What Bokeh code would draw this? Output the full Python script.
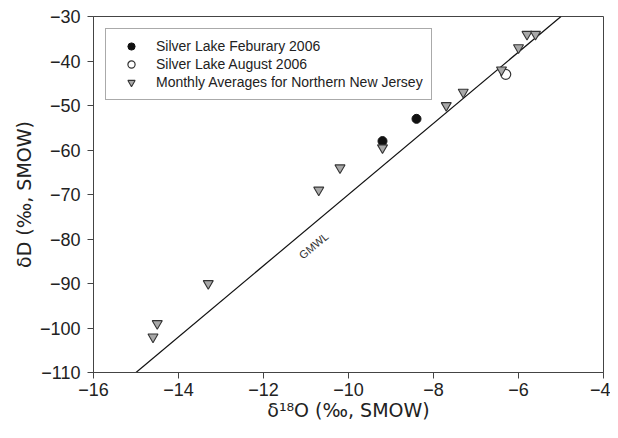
from bokeh.plotting import figure
from bokeh.models import FixedTicker, Label
from bokeh.embed import file_html
from bokeh.resources import INLINE

# --- data ---
feb_x = [-9.2, -8.4]
feb_y = [-58.0, -53.0]
aug_x = [-6.3]
aug_y = [-43.0]
nj_x = [-14.6, -14.5, -13.3, -10.7, -10.2, -9.2, -7.7, -7.3, -6.4, -6.0, -5.8, -5.6]
nj_y = [-102.0, -99.0, -90.0, -69.0, -64.0, -59.5, -50.0, -47.0, -42.0, -37.0, -34.0, -34.0]
gmwl_x = [-15.0, -5.0]
gmwl_y = [-110.0, -30.0]
x_ticks = [-16, -14, -12, -10, -8, -6, -4]
y_ticks = [-110, -100, -90, -80, -70, -60, -50, -40, -30]

FONT = "Liberation Sans"
TITLE_FONT = "DejaVu Sans"
DARK = "#444444"
TXT = "#222222"

p = figure(width=610, height=430, output_backend="svg", toolbar_location=None,
           x_range=(-16, -4), y_range=(-110, -30),
           min_border_left=93, min_border_right=7, min_border_top=16, min_border_bottom=58)

p.background_fill_color = "white"
p.border_fill_color = "white"
p.outline_line_color = DARK
p.outline_line_width = 1
p.xgrid.visible = False
p.ygrid.visible = False

for ax in (p.xaxis[0], p.yaxis[0]):
    ax.axis_line_color = DARK
    ax.major_tick_line_color = DARK
    ax.major_tick_out = 6
    ax.major_tick_in = 0
    ax.minor_tick_line_color = None
    ax.major_label_text_font = FONT
    ax.major_label_text_font_size = "18px"
    ax.major_label_text_color = TXT
    ax.axis_label_text_font = TITLE_FONT
    ax.axis_label_text_font_size = "19px"
    ax.axis_label_text_font_style = "normal"
    ax.axis_label_text_color = TXT

p.xaxis.ticker = FixedTicker(ticks=x_ticks)
p.yaxis.ticker = FixedTicker(ticks=y_ticks)
p.xaxis.axis_label = "δ¹⁸O (‰, SMOW)"
p.yaxis.axis_label = "δD (‰, SMOW)"
p.xaxis.major_label_standoff = 4
p.xaxis.axis_label_standoff = 0
p.yaxis.major_label_standoff = 7
p.yaxis.axis_label_standoff = 2

# GMWL
p.line(gmwl_x, gmwl_y, line_color="#111111", line_width=1.2)
p.add_layout(Label(x=-10.82, y=-81.5, text="GMWL", angle=40, angle_units="deg",
                   text_align="center", text_baseline="middle",
                   text_font=FONT, text_font_size="11px", text_color="#333333"))

p.scatter(feb_x, feb_y, marker="circle", size=9, fill_color="#111111",
          line_color="#111111", legend_label="Silver Lake Feburary 2006")
p.scatter(aug_x, aug_y, marker="circle", size=10, fill_color="white",
          line_color="#333333", line_width=1.2, legend_label="Silver Lake August 2006")
p.scatter(nj_x, nj_y, marker="inverted_triangle", size=10, fill_color="#a8a8a8",
          line_color="#333333", line_width=1.1,
          legend_label="Monthly Averages for Northern New Jersey")

lg = p.legend[0]
lg.location = "top_left"
lg.margin = 12
lg.padding = 8
lg.spacing = 0
lg.label_height = 18
lg.glyph_height = 18
lg.glyph_width = 34
lg.label_standoff = 8
lg.label_text_font = FONT
lg.label_text_font_size = "14px"
lg.label_text_color = TXT
lg.border_line_color = "#555555"
lg.border_line_width = 1
lg.background_fill_color = "white"
lg.background_fill_alpha = 1.0

open("out.html", "w").write(file_html(p, INLINE))
